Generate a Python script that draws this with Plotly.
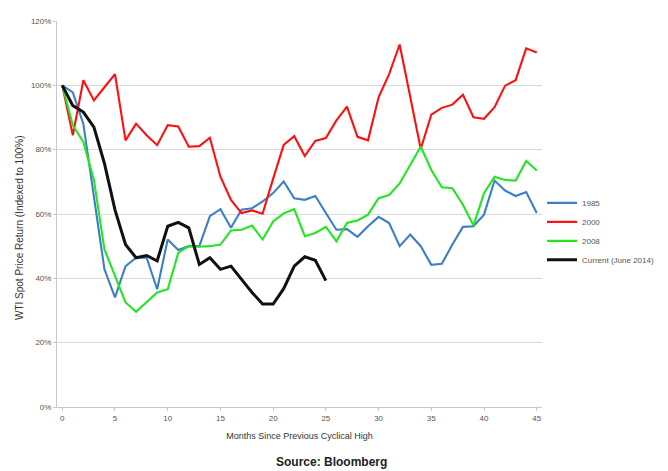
import plotly.graph_objects as go

months = list(range(46))

s1985 = [100, 97.8, 88, 65.4, 42.8, 34.1, 43.8, 46.4, 46.4, 36.6,
         52.1, 48.8, 50, 50, 59.3, 61.5, 55.7, 61.3, 61.8, 63.9,
         66.5, 70.1, 64.9, 64.4, 65.6, 60.3, 55.1, 55.3, 52.9, 56.2,
         59.1, 57.2, 50, 53.6, 50, 44.2, 44.5, 50.5, 56, 56.2,
         59.8, 70.4, 67.3, 65.6, 66.8, 60.3]

s2000 = [100, 84.5, 101.6, 95.3, 99.4, 103.5, 82.9, 88.1, 84.5, 81.4,
         87.6, 87.2, 80.9, 81.1, 83.7, 71.6, 64.4, 60.3, 61.1, 60.1,
         71, 81.5, 84.2, 78, 82.7, 83.6, 89.1, 93.4, 84, 82.9,
         96.3, 103.5, 112.7, 96.3, 80.2, 90.9, 93, 94, 97.1, 90.1,
         89.6, 93.2, 99.9, 101.6, 111.5, 110.2]

s2008 = [100, 87.6, 82.4, 70.6, 49, 40.7, 32.5, 29.6, 32.5, 35.6,
         36.6, 47.9, 50, 49.8, 50, 50.5, 54.9, 55.1, 56.4, 52.1,
         57.7, 60.2, 61.5, 53.1, 54.1, 56, 51.5, 57.2, 58, 59.8,
         64.9, 65.9, 69.5, 75.2, 81, 73.7, 68.3, 68, 62.9, 56.4,
         66.5, 71.6, 70.6, 70.4, 76.5, 73.5]

current = [100, 93.7, 91.7, 87, 75.7, 61.3, 50.5, 46.4, 47.1, 45.4,
           56.2, 57.4, 55.7, 44.3, 46.4, 42.8, 43.8, 39.7, 35.6, 32,
           32, 36.8, 43.8, 46.7, 45.6, 39.3]

series = [
    ("1985", s1985, "#3c7fc8", 2.1),
    ("2000", s2000, "#ff1010", 2.1),
    ("2008", s2008, "#22e622", 2.1),
    ("Current (June 2014)", current, "#111111", 3),
]

y_ticks = [0, 20, 40, 60, 80, 100, 120]
y_tick_labels = ["0%", "20%", "40%", "60%", "80%", "100%", "120%"]
x_ticks = [0, 5, 10, 15, 20, 25, 30, 35, 40, 45]

fig = go.Figure()
for name, vals, color, w in series:
    fig.add_trace(go.Scatter(
        x=months[:len(vals)], y=vals, mode="lines", name=name,
        line=dict(color=color, width=w)))

font = "Liberation Sans, Arial, sans-serif"
# page body has an 8px margin, so the figure is 8px smaller than the window
fig.update_layout(
    width=660, height=463,
    margin=dict(l=49, r=123, t=9, b=64),
    paper_bgcolor="white", plot_bgcolor="white",
    font=dict(family=font, size=8, color="#555555"),
    showlegend=True,
    legend=dict(x=1.0, xanchor="left", y=0.455, yanchor="middle",
                font=dict(size=8, color="#555555"),
                itemwidth=30, tracegroupgap=0, bgcolor="rgba(0,0,0,0)"),
    xaxis=dict(range=[-0.5, 45.5], tickvals=x_ticks, showgrid=False,
               showline=True, linecolor="#c8c8c8", linewidth=1,
               ticks="outside", ticklen=3, tickcolor="#c8c8c8",
               zeroline=False,
               title=dict(text="Months Since Previous Cyclical High",
                          font=dict(size=9, color="#333333"), standoff=11)),
    yaxis=dict(range=[0, 120], tickvals=y_ticks, ticktext=y_tick_labels,
               showgrid=True, gridcolor="#dadada", gridwidth=1,
               showline=True, linecolor="#c8c8c8", linewidth=1,
               ticks="outside", ticklen=3, tickcolor="#c8c8c8",
               zeroline=False),
)

fig.add_annotation(text="WTI Spot Price Return (Indexed to 100%)",
                   xref="paper", yref="paper", x=-0.076, y=0.464,
                   textangle=-90, showarrow=False, xanchor="center",
                   yanchor="middle", font=dict(size=10, color="#333333"))

fig.add_annotation(text="<b>Source: Bloomberg</b>", xref="paper", yref="paper",
                   x=0.566, y=-0.143, showarrow=False, xanchor="center",
                   yanchor="middle", font=dict(size=12, color="#222222"))

fig.write_html("out.html")
